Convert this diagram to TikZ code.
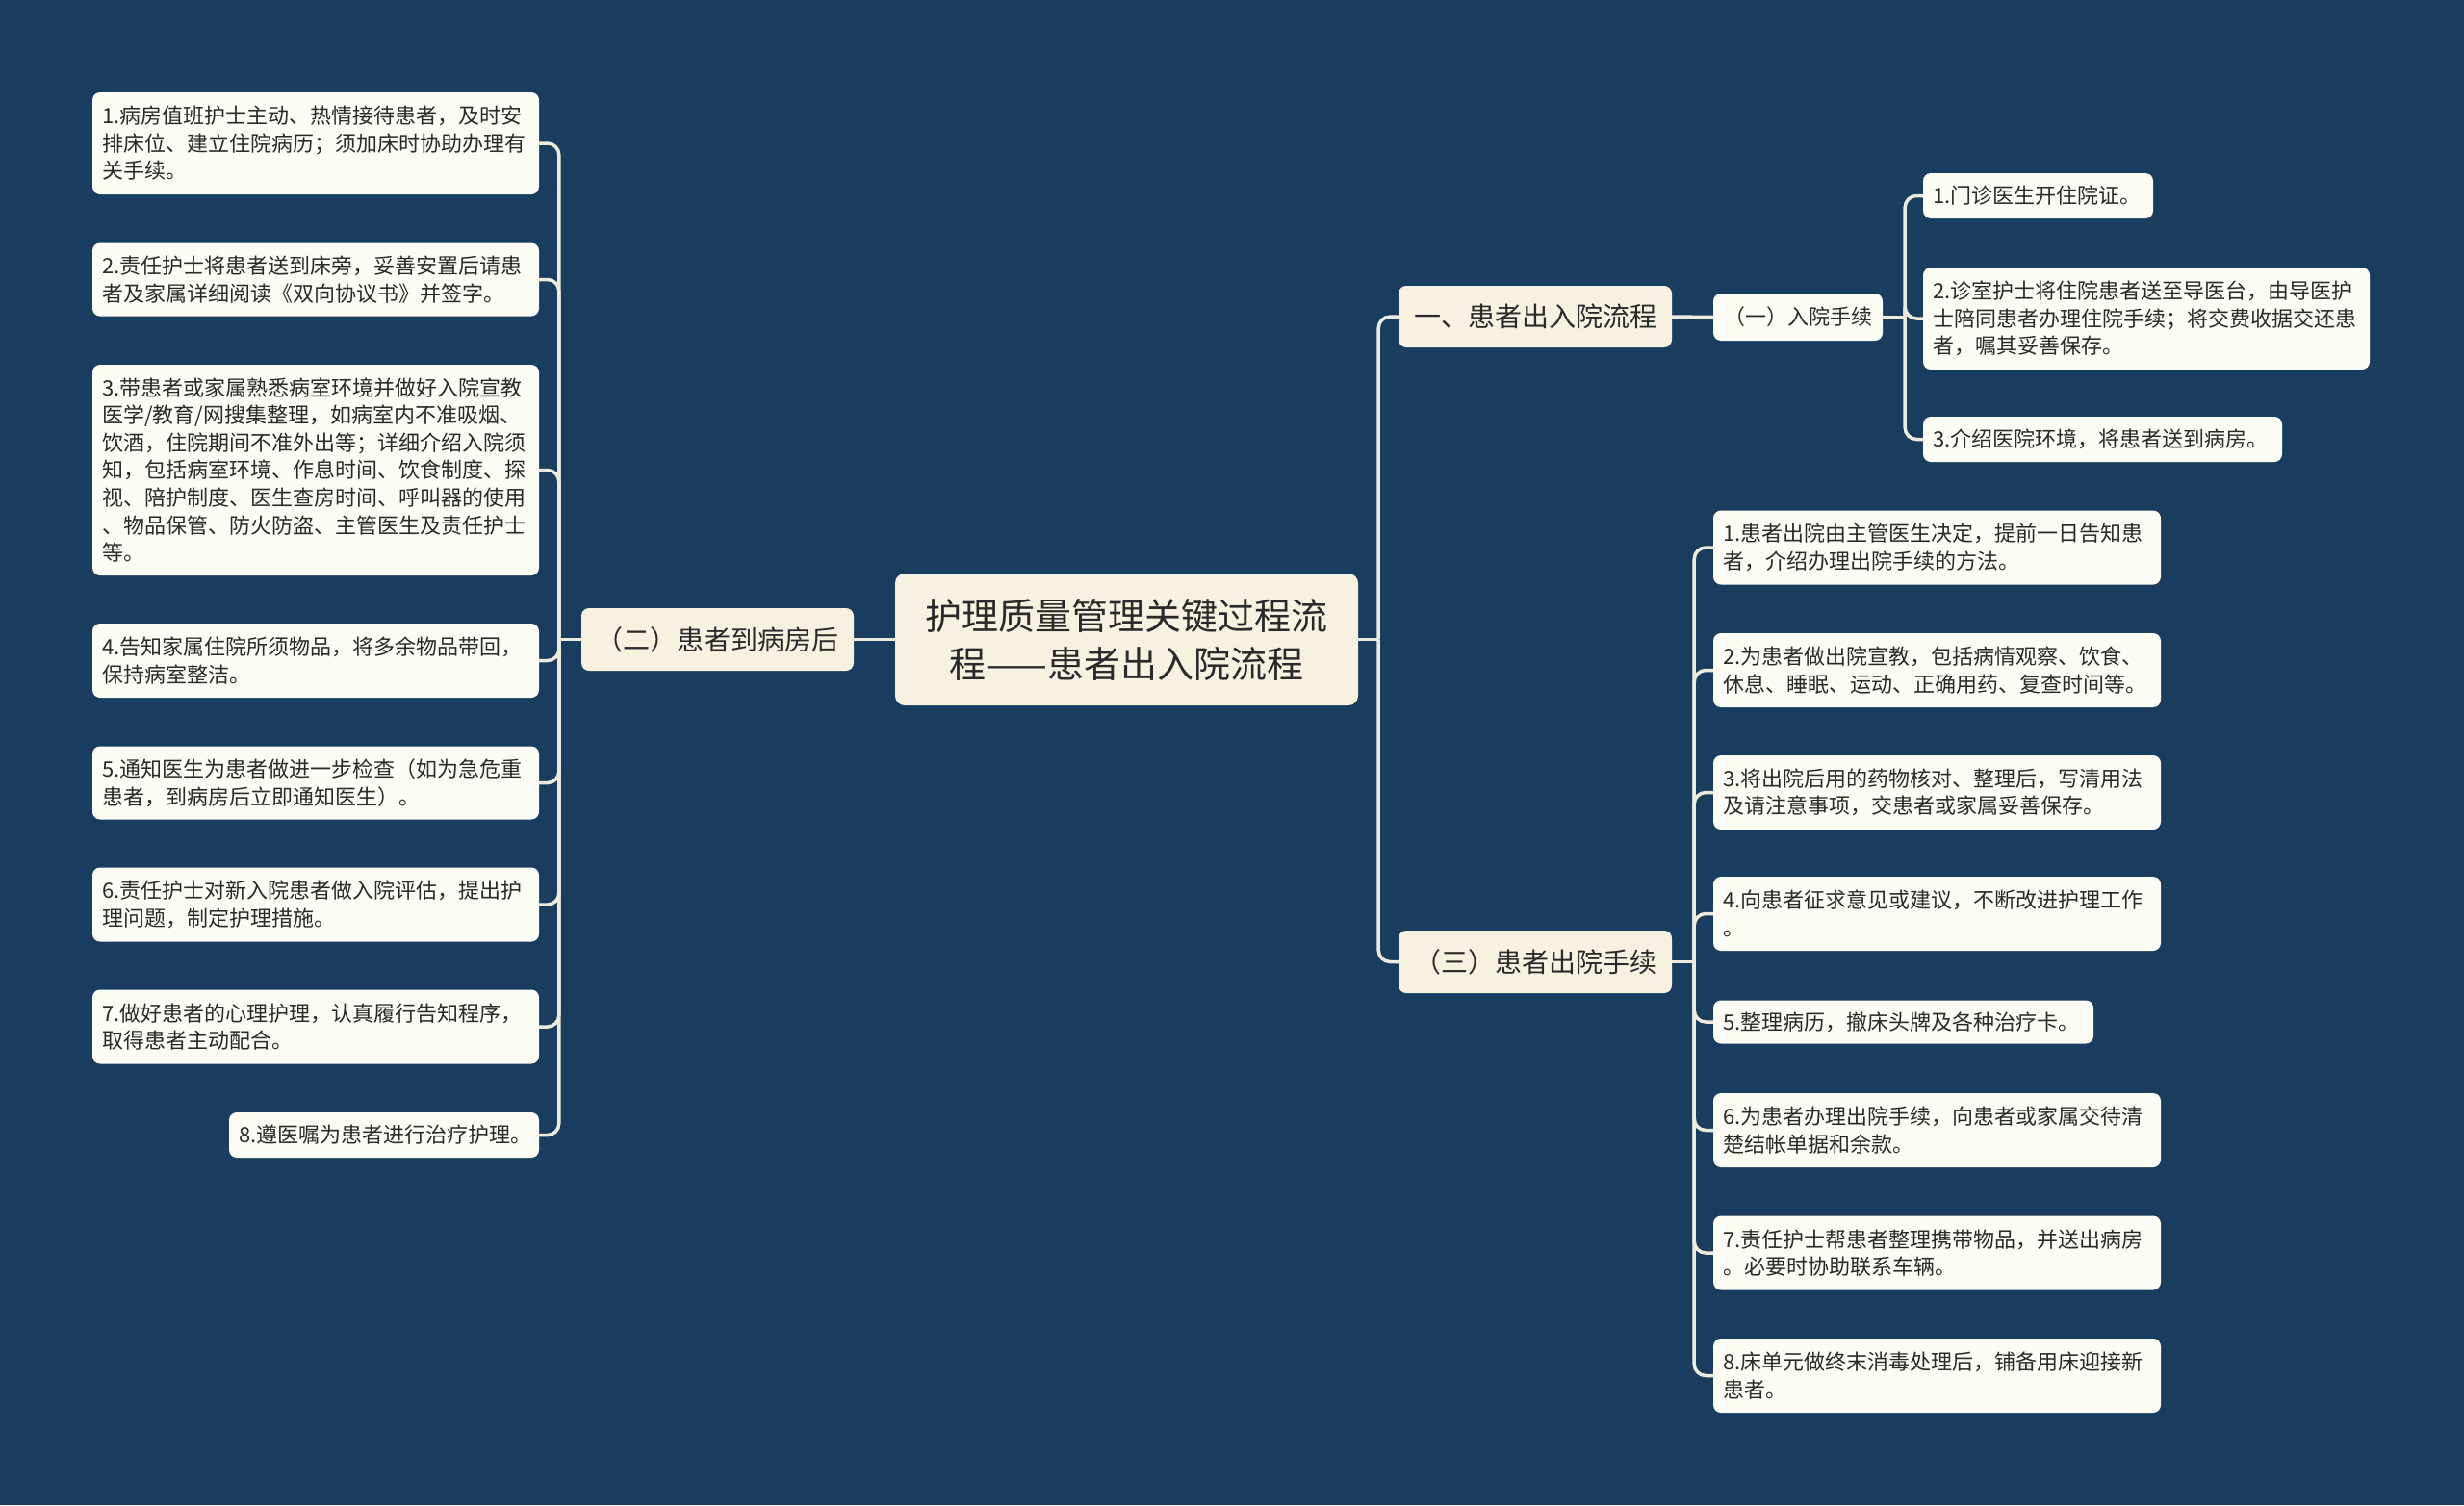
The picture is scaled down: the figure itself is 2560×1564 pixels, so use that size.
\documentclass[tikz,border=0pt]{standalone}
\usepackage{fontspec}
\setmainfont{Noto Sans CJK SC}
\definecolor{bg}{HTML}{183D5E}
\definecolor{cream}{HTML}{F7F2DF}
\definecolor{leaffill}{HTML}{FCFBF4}
\definecolor{txt}{HTML}{2A2A2A}
\definecolor{linec}{HTML}{EEEBDD}
\tikzset{
  leaf/.style={fill=leaffill, rounded corners=8pt, align=left, inner xsep=10pt, inner ysep=0pt,
    font=\fontsize{22}{28.6}\selectfont, text=txt},
  branch/.style={fill=cream, rounded corners=8pt, align=center, inner sep=0pt,
    font=\fontsize{28}{34}\selectfont, text=txt},
  sub/.style={fill=leaffill, rounded corners=8pt, align=center, inner sep=0pt,
    font=\fontsize{22}{28}\selectfont, text=txt},
  root/.style={fill=cream, rounded corners=10pt, align=center, inner sep=0pt,
    font=\fontsize{38}{50}\selectfont, text=txt},
  conn/.style={draw=linec, line width=3.5pt, rounded corners=12pt}
}
\begin{document}
\begin{tikzpicture}[x=1pt,y=-1pt]
\path[fill=bg,use as bounding box] (0,0) rectangle (2560,1564);

% root and branches
\node[root, minimum width=481, minimum height=137] (C) at (1170.5,664.5) {护理质量管理关键过程流\\程——患者出入院流程};
\node[branch, minimum width=283, minimum height=65] (B) at (745.5,664.5) {（二）患者到病房后};
\node[branch, minimum width=284, minimum height=64] (R1) at (1595,329) {一、患者出入院流程};
\node[branch, minimum width=284, minimum height=65] (R3) at (1595,999.5) {（三）患者出院手续};
\node[sub, minimum width=176, minimum height=49] (A) at (1868,329.5) {（一）入院手续};

% left leaves
\node[leaf, text width=444, minimum height=106] (L1) at (328,149) {1.病房值班护士主动、热情接待患者，及时安\\排床位、建立住院病历；须加床时协助办理有\\关手续。};
\node[leaf, text width=444, minimum height=76] (L2) at (328,290.5) {2.责任护士将患者送到床旁，妥善安置后请患\\者及家属详细阅读《双向协议书》并签字。};
\node[leaf, text width=444, minimum height=219] (L3) at (328,488.5) {3.带患者或家属熟悉病室环境并做好入院宣教\\医学/教育/网搜集整理，如病室内不准吸烟、\\饮酒，住院期间不准外出等；详细介绍入院须\\知，包括病室环境、作息时间、饮食制度、探\\视、陪护制度、医生查房时间、呼叫器的使用\\、物品保管、防火防盗、主管医生及责任护士\\等。};
\node[leaf, text width=444, minimum height=77] (L4) at (328,686.5) {4.告知家属住院所须物品，将多余物品带回，\\保持病室整洁。};
\node[leaf, text width=444, minimum height=76] (L5) at (328,813.5) {5.通知医生为患者做进一步检查（如为急危重\\患者，到病房后立即通知医生）。};
\node[leaf, text width=444, minimum height=77] (L6) at (328,940) {6.责任护士对新入院患者做入院评估，提出护\\理问题，制定护理措施。};
\node[leaf, text width=444, minimum height=77] (L7) at (328,1067) {7.做好患者的心理护理，认真履行告知程序，\\取得患者主动配合。};
\node[leaf, text width=302, minimum height=47] (L8) at (399,1179.5) {8.遵医嘱为患者进行治疗护理。};

% admission leaves
\node[leaf, text width=219, minimum height=47] (a1) at (2117.5,203.5) {1.门诊医生开住院证。};
\node[leaf, text width=444, minimum height=106] (a2) at (2230,331) {2.诊室护士将住院患者送至导医台，由导医护\\士陪同患者办理住院手续；将交费收据交还患\\者，嘱其妥善保存。};
\node[leaf, text width=353, minimum height=47] (a3) at (2184.5,456.5) {3.介绍医院环境，将患者送到病房。};

% discharge leaves
\node[leaf, text width=445, minimum height=77] (d1) at (2012.5,569) {1.患者出院由主管医生决定，提前一日告知患\\者，介绍办理出院手续的方法。};
\node[leaf, text width=445, minimum height=77] (d2) at (2012.5,696.5) {2.为患者做出院宣教，包括病情观察、饮食、\\休息、睡眠、运动、正确用药、复查时间等。};
\node[leaf, text width=445, minimum height=77] (d3) at (2012.5,823.5) {3.将出院后用的药物核对、整理后，写清用法\\及请注意事项，交患者或家属妥善保存。};
\node[leaf, text width=445, minimum height=77] (d4) at (2012.5,949.5) {4.向患者征求意见或建议，不断改进护理工作\\。};
\node[leaf, text width=375, minimum height=45] (d5) at (1977.5,1062) {5.整理病历，撤床头牌及各种治疗卡。};
\node[leaf, text width=445, minimum height=77] (d6) at (2012.5,1174.5) {6.为患者办理出院手续，向患者或家属交待清\\楚结帐单据和余款。};
\node[leaf, text width=445, minimum height=77] (d7) at (2012.5,1302) {7.责任护士帮患者整理携带物品，并送出病房\\。必要时协助联系车辆。};
\node[leaf, text width=445, minimum height=77] (d8) at (2012.5,1429.5) {8.床单元做终末消毒处理后，铺备用床迎接新\\患者。};

% junction points
\coordinate (jB) at ([xshift=-23pt]B.west);
\coordinate (jC) at ([xshift=21pt]C.east);
\coordinate (jA) at ([xshift=23pt]A.east);
\coordinate (jR) at ([xshift=23pt]R3.east);

% connectors
\draw[conn] (C.west) -- (B.east);
\draw[conn] (B.west) -- (jB);
\foreach \n in {L1,L2,L3,L4,L5,L6,L7,L8}{
  \draw[conn] (jB) |- (\n.east);
}
\draw[conn] (C.east) -- (jC);
\draw[conn] (jC) |- (R1.west);
\draw[conn] (jC) |- (R3.west);
\draw[conn] (R1.east) -- (A.west);
\draw[conn] (A.east) -- (jA);
\foreach \n in {a1,a2,a3}{
  \draw[conn] (jA) |- (\n.west);
}
\draw[conn] (R3.east) -- (jR);
\foreach \n in {d1,d2,d3,d4,d5,d6,d7,d8}{
  \draw[conn] (jR) |- (\n.west);
}
\end{tikzpicture}
\end{document}
